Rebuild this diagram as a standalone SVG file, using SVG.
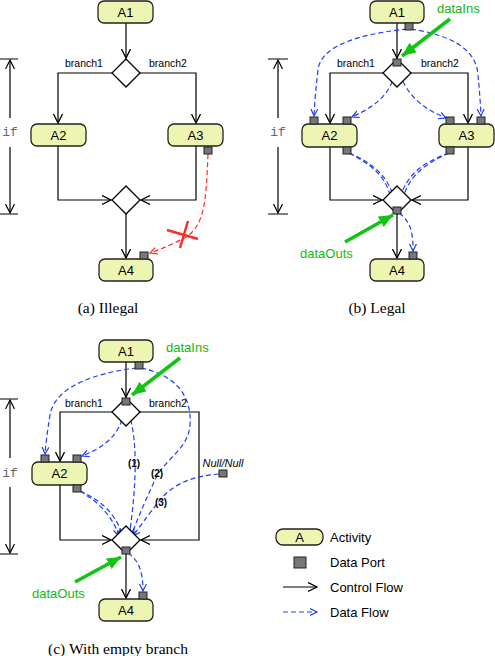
<svg xmlns="http://www.w3.org/2000/svg" width="495" height="656" viewBox="0 0 495 656">
<defs>
<marker id="ca" markerUnits="userSpaceOnUse" markerWidth="12" markerHeight="12" refX="9" refY="5" orient="auto"><path d="M0,0.5 L9,5 L0,9.5" fill="none" stroke="#000" stroke-width="1.3"/></marker>
<marker id="da" markerUnits="userSpaceOnUse" markerWidth="10" markerHeight="10" refX="7" refY="4" orient="auto"><path d="M0,0.5 L7,4 L0,7.5" fill="none" stroke="#1f3cff" stroke-width="1.2"/></marker>
<marker id="ra" markerUnits="userSpaceOnUse" markerWidth="10" markerHeight="10" refX="7" refY="4" orient="auto"><path d="M0,0.5 L7,4 L0,7.5" fill="none" stroke="#ff2a2a" stroke-width="1.2"/></marker>
<marker id="ga" markerUnits="userSpaceOnUse" markerWidth="16" markerHeight="14" refX="14" refY="6" orient="auto"><path d="M0,0 L14,6 L0,12 Z" fill="#12c312"/></marker>
<marker id="ia" markerUnits="userSpaceOnUse" markerWidth="12" markerHeight="12" refX="9" refY="5" orient="auto"><path d="M0,0.5 L9,5 L0,9.5" fill="none" stroke="#000" stroke-width="1.2"/></marker>
</defs>
<style>
.box{fill:#eef5b3;stroke:#222;stroke-width:1.3}
.port{fill:#777;stroke:#222;stroke-width:1}
.dia{fill:#fff;stroke:#000;stroke-width:1.3}
.cf{fill:none;stroke:#000;stroke-width:1.2;marker-end:url(#ca)}
.cl{fill:none;stroke:#000;stroke-width:1.2}
.df{fill:none;stroke:#1f3cff;stroke-width:1.2;stroke-dasharray:5,3;marker-end:url(#da)}
.rf{fill:none;stroke:#ff2a2a;stroke-width:1.2;stroke-dasharray:5,3;marker-end:url(#ra)}
.gr{fill:none;stroke:#12c312;stroke-width:3.5;marker-end:url(#ga)}
.nt{font-family:"Liberation Sans",Arial,sans-serif;font-size:13px;fill:#000;text-anchor:middle}
.bl{font-family:"Liberation Sans",Arial,sans-serif;font-size:10.5px;fill:#000;text-anchor:middle}
.gt{font-family:"Liberation Sans",Arial,sans-serif;font-size:13px;fill:#12b812}
.lt{font-family:"Liberation Sans",Arial,sans-serif;font-size:13px;fill:#000}
.num{font-family:"Liberation Sans",Arial,sans-serif;font-size:10px;font-weight:bold;fill:#000;text-anchor:middle}
.cap{font-family:"Liberation Serif","Times New Roman",serif;font-size:15.5px;fill:#000;text-anchor:middle}
.ift{font-family:"Liberation Mono","Courier New",monospace;font-size:13px;fill:#666;text-anchor:middle}
.ifl{fill:none;stroke:#000;stroke-width:1.2}
</style>

<!-- ===== Panel (a) ===== -->
<g id="a-if">
<path class="ifl" d="M0,59 H18 M0,214 H18"/>
<path class="ifl" d="M10,118 V60" marker-end="url(#ia)"/>
<path class="ifl" d="M10,147 V213" marker-end="url(#ia)"/>
<text class="ift" x="10" y="136">if</text>
</g>
<g id="a-connectors">
<path class="cf" d="M126,23 V58"/>
<path class="cf" d="M112,73 H58 V123"/>
<path class="cf" d="M140,73 H196 V123"/>
<path class="cf" d="M58,146 V200 H111"/>
<path class="cf" d="M196,146 V200 H141"/>
<path class="cf" d="M126,214 V258"/>
<path class="rf" d="M208,154 C206,200 205,225 186,237 Q172,245 150,253"/>
<path d="M167,230 L198,239 M188,221 L180,248" stroke="#ff2a2a" stroke-width="2.5" fill="none"/>
</g>
<g id="a-A1"><rect class="box" x="98" y="1" width="55" height="22" rx="6"/><text class="nt" x="125.5" y="16.5">A1</text></g>
<g id="a-decision"><polygon class="dia" points="126,59 140,73 126,87 112,73"/></g>
<text class="bl" x="84" y="67">branch1</text>
<text class="bl" x="168" y="67">branch2</text>
<g id="a-A2"><rect class="box" x="31" y="124" width="55" height="22" rx="6"/><text class="nt" x="58.5" y="139.5">A2</text></g>
<g id="a-A3"><rect class="box" x="168" y="124" width="55" height="22" rx="6"/><text class="nt" x="195.5" y="139.5">A3</text><rect class="port" x="204" y="147" width="8" height="7"/></g>
<g id="a-merge"><polygon class="dia" points="126,186 140,200 126,214 112,200"/></g>
<g id="a-A4"><rect class="box" x="99" y="259" width="54" height="22" rx="6"/><text class="nt" x="126" y="274.5">A4</text><rect class="port" x="140" y="252" width="8" height="7"/></g>
<text class="cap" x="108" y="313">(a) Illegal</text>

<!-- ===== Panel (b) ===== -->
<g id="b-if">
<path class="ifl" d="M268,59 H288 M268,214 H288"/>
<path class="ifl" d="M278,118 V60" marker-end="url(#ia)"/>
<path class="ifl" d="M278,147 V213" marker-end="url(#ia)"/>
<text class="ift" x="278" y="136">if</text>
</g>
<g transform="translate(271,0)">
<g id="b-connectors">
<path class="cf" d="M126,23 V58"/>
<path class="cf" d="M112,73 H59 V123"/>
<path class="cf" d="M140,73 H197 V123"/>
<path class="cf" d="M59,147 V200 H111"/>
<path class="cf" d="M197,147 V200 H141"/>
<path class="cf" d="M126,214 V258"/>
<path class="df" d="M136,29 C100,33 50,42 47,70 Q44,95 43,116"/>
<path class="df" d="M140,29 C172,34 205,45 207,75 Q209,95 210,116"/>
<path class="df" d="M125,66 C122,90 110,104 81,117"/>
<path class="df" d="M127,66 C132,92 150,108 175,118"/>
<path class="df" d="M78,153 C100,165 118,176 121,206"/>
<path class="df" d="M78,153 C102,163 121,178 124,206"/>
<path class="df" d="M178,153 C152,165 134,178 131,206"/>
<path class="df" d="M178,153 C150,163 131,178 128,206"/>
<path class="df" d="M128,213 C140,222 142,232 142,251"/>
</g>
<g id="b-A1"><rect class="box" x="99" y="1" width="54" height="22" rx="6"/><text class="nt" x="126" y="16.5">A1</text><rect class="port" x="134" y="23" width="8" height="7"/></g>
<g id="b-decision"><polygon class="dia" points="126,59 140,73 126,87 112,73"/><rect class="port" x="122" y="59" width="8" height="7"/></g>
<text class="bl" x="85" y="67">branch1</text>
<text class="bl" x="169" y="67">branch2</text>
<g id="b-A2"><rect class="box" x="31" y="124" width="55" height="23" rx="6"/><text class="nt" x="58.5" y="140">A2</text><rect class="port" x="39" y="117" width="8" height="7"/><rect class="port" x="72" y="117" width="8" height="7"/><rect class="port" x="72" y="147" width="8" height="7"/></g>
<g id="b-A3"><rect class="box" x="168" y="124" width="55" height="23" rx="6"/><text class="nt" x="195.5" y="140">A3</text><rect class="port" x="175" y="117" width="8" height="7"/><rect class="port" x="206" y="117" width="8" height="7"/><rect class="port" x="175" y="147" width="8" height="7"/></g>
<g id="b-merge"><polygon class="dia" points="126,186 140,200 126,214 112,200"/><rect class="port" x="122" y="207" width="8" height="7"/></g>
<g id="b-A4"><rect class="box" x="99" y="259" width="54" height="22" rx="6"/><text class="nt" x="126" y="274.5">A4</text><rect class="port" x="138" y="252" width="8" height="7"/></g>
</g>
<g id="b-dataIns"><path class="gr" d="M450,19 L402,56"/><text class="gt" x="437" y="13">dataIns</text></g>
<g id="b-dataOuts"><path class="gr" d="M345,242 L393,215"/><text class="gt" x="300" y="258">dataOuts</text></g>
<text class="cap" x="377" y="313">(b) Legal</text>

<!-- ===== Panel (c) ===== -->
<g id="c-if">
<path class="ifl" d="M0,399 H18 M0,554 H18"/>
<path class="ifl" d="M10,458 V400" marker-end="url(#ia)"/>
<path class="ifl" d="M10,487 V553" marker-end="url(#ia)"/>
<text class="ift" x="10" y="477">if</text>
</g>
<g id="c-connectors">
<path class="cf" d="M126,362 V397"/>
<path class="cf" d="M112,412 H60 V461"/>
<path class="cf" d="M140,412 H199 V540 H141"/>
<path class="cf" d="M60,485 V540 H111"/>
<path class="cf" d="M126,554 V598"/>
<path class="df" d="M137,368 C100,372 55,385 50,415 Q46,440 45,454"/>
<path class="df" d="M141,368 C175,375 192,395 190,425 C188,450 165,458 155,480 Q143,505 131,536"/>
<path class="df" d="M125,404 C123,430 110,445 82,456"/>
<path class="df" d="M127,404 C133,425 136,445 135,475 Q134,505 129,536"/>
<path class="df" d="M80,491 C100,500 115,512 123,536"/>
<path class="df" d="M80,491 C98,502 112,515 119,536"/>
<path class="df" d="M219,474 C195,476 175,482 160,500 Q148,515 133,536"/>
<path class="df" d="M128,553 C138,560 143,570 143,591"/>
</g>
<g id="c-A1"><rect class="box" x="99" y="340" width="54" height="22" rx="6"/><text class="nt" x="126" y="355.5">A1</text><rect class="port" x="135" y="362" width="8" height="7"/></g>
<g id="c-decision"><polygon class="dia" points="126,398 140,412 126,426 112,412"/><rect class="port" x="122" y="398" width="8" height="7"/></g>
<text class="bl" x="84" y="407">branch1</text>
<text class="bl" x="168" y="407">branch2</text>
<g id="c-A2"><rect class="box" x="32" y="462" width="55" height="23" rx="6"/><text class="nt" x="59.5" y="478">A2</text><rect class="port" x="41" y="455" width="8" height="7"/><rect class="port" x="73" y="455" width="8" height="7"/><rect class="port" x="73" y="485" width="8" height="7"/></g>
<g id="c-null"><text x="223" y="467" font-family="Liberation Sans,Arial,sans-serif" font-size="11" font-style="italic" text-anchor="middle">Null/Null</text><rect class="port" x="219" y="470" width="8" height="7"/></g>
<text class="num" x="134" y="467">(1)</text>
<text class="num" x="157" y="477">(2)</text>
<text class="num" x="161" y="506">(3)</text>
<g id="c-merge"><polygon class="dia" points="126,526 140,540 126,554 112,540"/><rect class="port" x="122" y="547" width="8" height="7"/></g>
<g id="c-A4"><rect class="box" x="99" y="599" width="54" height="22" rx="6"/><text class="nt" x="126" y="614.5">A4</text><rect class="port" x="139" y="592" width="8" height="7"/></g>
<g id="c-dataIns"><path class="gr" d="M180,358 L132,395"/><text class="gt" x="166" y="352">dataIns</text></g>
<g id="c-dataOuts"><path class="gr" d="M75,582 L121,557"/><text class="gt" x="32" y="598">dataOuts</text></g>
<text class="cap" x="118" y="654">(c) With empty branch</text>

<!-- ===== Legend ===== -->
<g id="legend">
<rect class="box" x="276" y="529" width="47" height="16" rx="7"/><text class="nt" x="299.5" y="541.5">A</text>
<text class="lt" x="330" y="542">Activity</text>
<rect class="port" x="294" y="557" width="12" height="11"/>
<text class="lt" x="330" y="567">Data Port</text>
<path class="cf" d="M283,587 H317"/>
<text class="lt" x="330" y="592">Control Flow</text>
<path class="df" d="M283,612 H317"/>
<text class="lt" x="330" y="617">Data Flow</text>
</g>
</svg>
